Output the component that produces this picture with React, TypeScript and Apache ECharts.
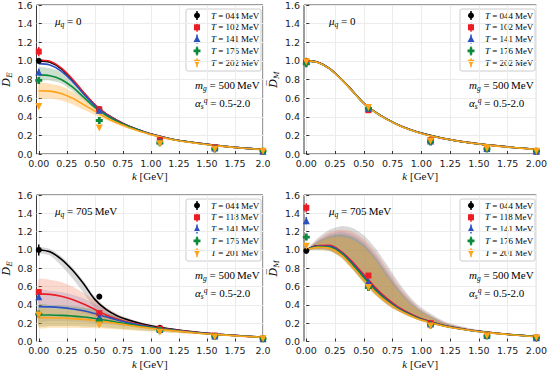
import React, { useEffect, useRef } from 'react';
import * as echarts from 'echarts';

// sampling momenta for the fitted curves / bands (GeV)
const K = [0, 0.1, 0.2, 0.3, 0.4, 0.5, 0.6, 0.7, 0.8, 0.9, 1.0, 1.2, 1.4, 1.6, 1.8, 2.0];
// lattice momenta of the data points (GeV)
const KP = [0, 0.54, 1.08, 1.57, 2.0];
const X_TICKS = [0, 0.25, 0.5, 0.75, 1.0, 1.25, 1.5, 1.75, 2.0];

const T_MU0 = ['044', '102', '141', '176', '202'];
const T_MU705 = ['044', '118', '141', '176', '201'];

// ---------- Panel 1: D_E, mu_q = 0 ----------
const DE0_black = [1.0, 0.985, 0.915, 0.795, 0.655, 0.525, 0.43, 0.36, 0.3, 0.255, 0.215, 0.155, 0.12, 0.09, 0.066, 0.048];
const DE0_red = [1.01, 0.995, 0.925, 0.805, 0.663, 0.53, 0.432, 0.36, 0.3, 0.255, 0.215, 0.155, 0.12, 0.09, 0.066, 0.048];
const DE0_blue = [0.97, 0.955, 0.89, 0.78, 0.645, 0.52, 0.425, 0.355, 0.298, 0.254, 0.214, 0.155, 0.119, 0.09, 0.066, 0.048];
const DE0_green = [0.85, 0.84, 0.8, 0.72, 0.61, 0.5, 0.415, 0.35, 0.295, 0.25, 0.21, 0.155, 0.118, 0.088, 0.065, 0.047];
const DE0_orange = [0.68, 0.675, 0.65, 0.6, 0.53, 0.46, 0.39, 0.335, 0.285, 0.245, 0.208, 0.153, 0.116, 0.087, 0.064, 0.046];
const DE0_green_hi = [0.93, 0.92, 0.88, 0.79, 0.67, 0.54, 0.44, 0.365, 0.305, 0.255, 0.213, 0.156, 0.119, 0.089, 0.066, 0.048];
const DE0_green_lo = [0.8, 0.79, 0.76, 0.68, 0.58, 0.48, 0.4, 0.34, 0.288, 0.246, 0.207, 0.154, 0.117, 0.087, 0.064, 0.046];
const DE0_orange_hi = [0.76, 0.755, 0.73, 0.67, 0.59, 0.5, 0.42, 0.355, 0.3, 0.255, 0.213, 0.156, 0.118, 0.088, 0.065, 0.047];
const DE0_orange_lo = [0.6, 0.595, 0.575, 0.535, 0.475, 0.42, 0.365, 0.315, 0.27, 0.235, 0.203, 0.15, 0.114, 0.086, 0.063, 0.045];
const DE0_pts_black = [1.0, 0.48, 0.15, 0.065, 0.03];
const DE0_pts_red = [1.1, 0.48, 0.15, 0.07, 0.03];
const DE0_pts_blue = [0.88, 0.47, 0.14, 0.065, 0.03];
const DE0_pts_green = [0.79, 0.36, 0.12, 0.055, 0.03];
const DE0_pts_orange = [0.51, 0.28, 0.11, 0.05, 0.03];
const DE0_err_black = [0.02, 0.015, 0.01, 0.005, 0.005];
const DE0_err_red = [0.05, 0.02, 0.01, 0.005, 0.005];
const DE0_err_blue = [0.035, 0.02, 0.01, 0.005, 0.005];
const DE0_err_green = [0.03, 0.02, 0.01, 0.005, 0.005];
const DE0_err_orange = [0.02, 0.015, 0.01, 0.005, 0.005];

// ---------- Panel 2: D_M, mu_q = 0 ----------
const DM0_black = [1.0, 0.985, 0.92, 0.81, 0.68, 0.545, 0.45, 0.375, 0.312, 0.263, 0.224, 0.165, 0.125, 0.095, 0.07, 0.05];
const DM0_red = [1.0, 0.985, 0.92, 0.81, 0.68, 0.545, 0.45, 0.375, 0.312, 0.263, 0.224, 0.165, 0.125, 0.095, 0.07, 0.05];
const DM0_blue = [1.0, 0.984, 0.918, 0.808, 0.678, 0.544, 0.449, 0.374, 0.311, 0.262, 0.223, 0.164, 0.124, 0.094, 0.07, 0.05];
const DM0_green = [1.0, 0.983, 0.917, 0.807, 0.677, 0.543, 0.448, 0.373, 0.31, 0.261, 0.222, 0.164, 0.124, 0.094, 0.069, 0.05];
const DM0_orange = [1.0, 0.982, 0.916, 0.806, 0.676, 0.542, 0.447, 0.372, 0.309, 0.26, 0.221, 0.163, 0.123, 0.093, 0.069, 0.049];
const DM0_pts_black = [1.0, 0.49, 0.15, 0.06, 0.03];
const DM0_pts_red = [0.99, 0.47, 0.15, 0.06, 0.03];
const DM0_pts_blue = [0.99, 0.49, 0.14, 0.06, 0.03];
const DM0_pts_green = [0.97, 0.49, 0.13, 0.055, 0.03];
const DM0_pts_orange = [0.99, 0.5, 0.14, 0.06, 0.03];
const DM0_err = [0.02, 0.015, 0.01, 0.005, 0.005];

// ---------- Panel 3: D_E, mu_q = 705 MeV ----------
const DE705_black = [1.0, 0.98, 0.9, 0.78, 0.63, 0.46, 0.35, 0.28, 0.235, 0.2, 0.172, 0.132, 0.102, 0.08, 0.062, 0.047];
const DE705_red = [0.52, 0.515, 0.495, 0.46, 0.41, 0.35, 0.29, 0.245, 0.21, 0.185, 0.162, 0.127, 0.1, 0.079, 0.061, 0.047];
const DE705_blue = [0.38, 0.378, 0.37, 0.355, 0.335, 0.305, 0.27, 0.235, 0.205, 0.18, 0.158, 0.124, 0.098, 0.078, 0.061, 0.047];
const DE705_green = [0.29, 0.289, 0.285, 0.278, 0.268, 0.252, 0.232, 0.21, 0.19, 0.17, 0.152, 0.121, 0.096, 0.077, 0.06, 0.046];
const DE705_orange = [0.26, 0.259, 0.256, 0.25, 0.242, 0.23, 0.214, 0.196, 0.178, 0.16, 0.144, 0.116, 0.093, 0.075, 0.059, 0.046];
const DE705_black_hi = [1.03, 1.01, 0.93, 0.81, 0.66, 0.49, 0.375, 0.3, 0.25, 0.21, 0.18, 0.137, 0.105, 0.082, 0.063, 0.048];
const DE705_black_lo = [0.97, 0.94, 0.83, 0.69, 0.53, 0.37, 0.28, 0.23, 0.2, 0.175, 0.154, 0.122, 0.096, 0.076, 0.06, 0.046];
const DE705_red_hi = [0.68, 0.675, 0.65, 0.6, 0.53, 0.45, 0.37, 0.3, 0.25, 0.215, 0.185, 0.138, 0.106, 0.083, 0.063, 0.048];
const DE705_red_lo = [0.4, 0.395, 0.38, 0.35, 0.31, 0.27, 0.23, 0.2, 0.175, 0.16, 0.145, 0.118, 0.095, 0.076, 0.06, 0.046];
const DE705_blue_hi = [0.56, 0.555, 0.54, 0.51, 0.47, 0.41, 0.35, 0.29, 0.245, 0.21, 0.18, 0.135, 0.104, 0.082, 0.063, 0.048];
const DE705_blue_lo = [0.22, 0.22, 0.22, 0.215, 0.21, 0.2, 0.19, 0.175, 0.16, 0.147, 0.135, 0.112, 0.092, 0.074, 0.058, 0.045];
const DE705_green_hi = [0.4, 0.4, 0.395, 0.385, 0.37, 0.345, 0.31, 0.27, 0.235, 0.205, 0.178, 0.135, 0.104, 0.082, 0.063, 0.048];
const DE705_green_lo = [0.17, 0.17, 0.17, 0.168, 0.165, 0.16, 0.152, 0.143, 0.133, 0.123, 0.114, 0.097, 0.081, 0.067, 0.053, 0.042];
const DE705_orange_hi = [0.36, 0.36, 0.355, 0.345, 0.33, 0.31, 0.285, 0.255, 0.225, 0.197, 0.172, 0.132, 0.102, 0.08, 0.062, 0.047];
const DE705_orange_lo = [0.15, 0.15, 0.15, 0.149, 0.147, 0.144, 0.139, 0.132, 0.124, 0.116, 0.108, 0.093, 0.078, 0.065, 0.052, 0.041];
const DE705_pts_black = [1.0, 0.49, 0.15, 0.06, 0.03];
const DE705_pts_red = [0.54, 0.31, 0.14, 0.065, 0.03];
const DE705_pts_blue = [0.49, 0.27, 0.13, 0.06, 0.03];
const DE705_pts_green = [0.3, 0.22, 0.12, 0.055, 0.03];
const DE705_pts_orange = [0.29, 0.18, 0.1, 0.05, 0.03];
const DE705_err_black = [0.06, 0.01, 0.01, 0.005, 0.005];
const DE705_err_red = [0.03, 0.02, 0.01, 0.005, 0.005];
const DE705_err_blue = [0.03, 0.02, 0.01, 0.005, 0.005];
const DE705_err_green = [0.02, 0.02, 0.01, 0.005, 0.005];
const DE705_err_orange = [0.02, 0.025, 0.01, 0.005, 0.005];

// ---------- Panel 4: D_M, mu_q = 705 MeV ----------
const DM705_black = [1.0, 1.045, 1.045, 0.98, 0.86, 0.72, 0.58, 0.46, 0.37, 0.3, 0.245, 0.172, 0.128, 0.097, 0.073, 0.055];
const DM705_red = [1.0, 1.045, 1.05, 0.985, 0.87, 0.73, 0.59, 0.47, 0.375, 0.305, 0.248, 0.174, 0.129, 0.098, 0.074, 0.055];
const DM705_blue = [1.0, 1.04, 1.04, 0.975, 0.855, 0.71, 0.57, 0.455, 0.365, 0.297, 0.242, 0.171, 0.127, 0.096, 0.072, 0.054];
const DM705_green = [1.0, 1.035, 1.03, 0.965, 0.84, 0.695, 0.555, 0.445, 0.357, 0.291, 0.238, 0.169, 0.126, 0.095, 0.072, 0.054];
const DM705_orange = [1.0, 1.03, 1.02, 0.95, 0.82, 0.675, 0.54, 0.432, 0.348, 0.285, 0.234, 0.167, 0.125, 0.094, 0.071, 0.053];
const DM705_black_hi = [1.0, 1.13, 1.22, 1.26, 1.24, 1.16, 1.02, 0.84, 0.65, 0.49, 0.37, 0.22, 0.15, 0.11, 0.08, 0.058];
const DM705_red_hi = [1.0, 1.11, 1.19, 1.22, 1.2, 1.12, 0.98, 0.8, 0.62, 0.47, 0.35, 0.21, 0.145, 0.106, 0.078, 0.057];
const DM705_blue_hi = [1.0, 1.1, 1.17, 1.2, 1.17, 1.09, 0.95, 0.77, 0.59, 0.45, 0.34, 0.205, 0.142, 0.104, 0.077, 0.056];
const DM705_green_hi = [1.0, 1.09, 1.15, 1.17, 1.14, 1.06, 0.92, 0.74, 0.57, 0.43, 0.33, 0.2, 0.14, 0.103, 0.076, 0.056];
const DM705_orange_hi = [1.0, 1.08, 1.13, 1.14, 1.11, 1.03, 0.89, 0.71, 0.55, 0.415, 0.32, 0.195, 0.138, 0.102, 0.075, 0.055];
const DM705_black_lo = [1.0, 1.01, 1.0, 0.93, 0.8, 0.655, 0.52, 0.415, 0.335, 0.275, 0.228, 0.162, 0.122, 0.093, 0.07, 0.052];
const DM705_red_lo = [1.0, 1.01, 1.0, 0.93, 0.8, 0.655, 0.52, 0.415, 0.335, 0.275, 0.228, 0.162, 0.122, 0.093, 0.07, 0.052];
const DM705_blue_lo = [1.0, 1.005, 0.995, 0.925, 0.795, 0.65, 0.515, 0.41, 0.332, 0.272, 0.226, 0.161, 0.121, 0.092, 0.07, 0.052];
const DM705_green_lo = [1.0, 1.0, 0.99, 0.92, 0.79, 0.645, 0.51, 0.405, 0.328, 0.27, 0.224, 0.16, 0.121, 0.092, 0.069, 0.051];
const DM705_orange_lo = [1.0, 1.0, 0.985, 0.915, 0.785, 0.64, 0.505, 0.402, 0.325, 0.268, 0.222, 0.158, 0.12, 0.091, 0.069, 0.051];
const DM705_pts_black = [0.99, 0.62, 0.19, 0.065, 0.04];
const DM705_pts_red = [1.46, 0.72, 0.2, 0.065, 0.04];
const DM705_pts_blue = [1.32, 0.65, 0.19, 0.065, 0.04];
const DM705_pts_green = [1.14, 0.59, 0.18, 0.06, 0.04];
const DM705_pts_orange = [1.04, 0.59, 0.17, 0.06, 0.04];
const DM705_err_black = [0.02, 0.02, 0.01, 0.005, 0.005];
const DM705_err_red = [0.05, 0.02, 0.01, 0.005, 0.005];
const DM705_err_blue = [0.04, 0.02, 0.01, 0.005, 0.005];
const DM705_err_green = [0.02, 0.02, 0.01, 0.005, 0.005];
const DM705_err_orange = [0.03, 0.02, 0.01, 0.005, 0.005];

const COLORS = ['#000000', '#ec1c24', '#2b50c0', '#0c8a3b', '#ffa31a'];
const BAND_COLORS = [
  'rgba(130,130,130,0.30)',
  'rgba(245,130,95,0.30)',
  'rgba(125,110,180,0.22)',
  'rgba(60,130,60,0.26)',
  'rgba(255,170,50,0.34)',
];
const SYMBOLS = ['circle', 'rect', 'triangle', 'path://M3,0H7V3H10V7H7V10H3V7H0V3H3Z', 'path://M0,0H10L5,9Z'];
const SYMBOL_SIZES = [6, 6, 7, 7, 7];

const PANELS = [
  {
    curves: [DE0_black, DE0_red, DE0_blue, DE0_green, DE0_orange],
    hi: [null, null, null, DE0_green_hi, DE0_orange_hi],
    lo: [null, null, null, DE0_green_lo, DE0_orange_lo],
    pts: [DE0_pts_black, DE0_pts_red, DE0_pts_blue, DE0_pts_green, DE0_pts_orange],
    errs: [DE0_err_black, DE0_err_red, DE0_err_blue, DE0_err_green, DE0_err_orange],
    temps: T_MU0, last: '2.0', sub: 'E', mu: '0',
  },
  {
    curves: [DM0_black, DM0_red, DM0_blue, DM0_green, DM0_orange],
    hi: [null, null, null, null, null],
    lo: [null, null, null, null, null],
    pts: [DM0_pts_black, DM0_pts_red, DM0_pts_blue, DM0_pts_green, DM0_pts_orange],
    errs: [DM0_err, DM0_err, DM0_err, DM0_err, DM0_err],
    temps: T_MU0, last: '2.00', sub: 'M', mu: '0',
  },
  {
    curves: [DE705_black, DE705_red, DE705_blue, DE705_green, DE705_orange],
    hi: [DE705_black_hi, DE705_red_hi, DE705_blue_hi, DE705_green_hi, DE705_orange_hi],
    lo: [DE705_black_lo, DE705_red_lo, DE705_blue_lo, DE705_green_lo, DE705_orange_lo],
    pts: [DE705_pts_black, DE705_pts_red, DE705_pts_blue, DE705_pts_green, DE705_pts_orange],
    errs: [DE705_err_black, DE705_err_red, DE705_err_blue, DE705_err_green, DE705_err_orange],
    temps: T_MU705, last: '2.0', sub: 'E', mu: '705\u2009MeV',
  },
  {
    curves: [DM705_black, DM705_red, DM705_blue, DM705_green, DM705_orange],
    hi: [DM705_black_hi, DM705_red_hi, DM705_blue_hi, DM705_green_hi, DM705_orange_hi],
    lo: [DM705_black_lo, DM705_red_lo, DM705_blue_lo, DM705_green_lo, DM705_orange_lo],
    pts: [DM705_pts_black, DM705_pts_red, DM705_pts_blue, DM705_pts_green, DM705_pts_orange],
    errs: [DM705_err_black, DM705_err_red, DM705_err_blue, DM705_err_green, DM705_err_orange],
    temps: T_MU705, last: '2.00', sub: 'M', mu: '705\u2009MeV',
  },
];

const GRIDS = [
  { left: 30, top: 5, width: 233, height: 149 },
  { left: 304, top: 5, width: 235, height: 149 },
  { left: 30, top: 195, width: 233, height: 149 },
  { left: 304, top: 195, width: 235, height: 149 },
];

const SERIF = 'Liberation Serif';
const MATH_RICH = {
  i: { fontFamily: SERIF, fontStyle: 'italic', fontSize: 11, lineHeight: 14, color: '#111' },
  n: { fontFamily: SERIF, fontSize: 11, lineHeight: 14, color: '#111' },
  sb: { fontFamily: SERIF, fontStyle: 'italic', fontSize: 7.5, lineHeight: 14, verticalAlign: 'bottom', color: '#111' },
  sp: { fontFamily: SERIF, fontStyle: 'italic', fontSize: 7.5, lineHeight: 14, verticalAlign: 'top', color: '#111' },
};

function markerShape(i: number, cx: number, cy: number) {
  const fill = COLORS[i];
  if (i === 0) return { type: 'circle', shape: { cx, cy, r: 3 }, style: { fill } };
  if (i === 1) return { type: 'rect', shape: { x: cx - 3, y: cy - 3, width: 6, height: 6 }, style: { fill } };
  if (i === 2)
    return { type: 'polygon', shape: { points: [[cx, cy - 3.5], [cx + 3.5, cy + 3], [cx - 3.5, cy + 3]] }, style: { fill } };
  if (i === 3)
    return {
      type: 'polygon',
      shape: {
        points: [
          [cx - 1.3, cy - 3.5], [cx + 1.3, cy - 3.5], [cx + 1.3, cy - 1.3], [cx + 3.5, cy - 1.3], [cx + 3.5, cy + 1.3],
          [cx + 1.3, cy + 1.3], [cx + 1.3, cy + 3.5], [cx - 1.3, cy + 3.5], [cx - 1.3, cy + 1.3], [cx - 3.5, cy + 1.3],
          [cx - 3.5, cy - 1.3], [cx - 1.3, cy - 1.3],
        ],
      },
      style: { fill },
    };
  return { type: 'polygon', shape: { points: [[cx - 3.5, cy - 3], [cx + 3.5, cy - 3], [cx, cy + 3.5]] }, style: { fill } };
}

function legendGroup(x: number, y: number, temps: string[]) {
  const children: any[] = [
    { type: 'rect', shape: { x: 0, y: 0, width: 75, height: 62, r: 2 }, style: { fill: 'rgba(255,255,255,0.85)', stroke: '#cccccc', lineWidth: 1 } },
  ];
  temps.forEach((t, i) => {
    const cy = 6.5 + i * 11.8;
    const cx = 11;
    children.push({ type: 'line', shape: { x1: cx, y1: cy - 4.5, x2: cx, y2: cy + 4.5 }, style: { stroke: COLORS[i], lineWidth: 1.5 } });
    children.push(markerShape(i, cx, cy));
    children.push({
      type: 'text', x: 25, y: cy,
      style: {
        text: `{i|T}{n| = ${t}\u2009MeV}`,
        verticalAlign: 'middle',
        rich: {
          i: { fontFamily: SERIF, fontStyle: 'italic', fontSize: 9, color: '#111' },
          n: { fontFamily: SERIF, fontSize: 9, color: '#111' },
        },
      },
    });
  });
  return { type: 'group', x, y, z: 100, children };
}

function mathText(x: number, y: number, text: string) {
  return { type: 'text', x, y, z: 100, style: { text, verticalAlign: 'middle', rich: MATH_RICH } };
}

function buildOption() {
  const grid: any[] = [];
  const xAxis: any[] = [];
  const yAxis: any[] = [];
  const series: any[] = [];
  const graphic: any[] = [];

  PANELS.forEach((P, p) => {
    const g = GRIDS[p];
    grid.push({ ...g, show: true, borderColor: '#3a3a3a', borderWidth: 1, backgroundColor: 'transparent' });
    xAxis.push({
      type: 'value', gridIndex: p, min: -0.02, max: 2.0,
      axisLine: { show: false },
      axisTick: { show: true, inside: true, length: 3, customValues: X_TICKS, lineStyle: { color: '#333' } },
      axisLabel: {
        customValues: X_TICKS, margin: 4, fontFamily: 'DejaVu Sans', fontSize: 9.5, color: '#222',
        formatter: (v: number) => (Math.abs(v - 2) < 1e-9 ? P.last : v.toFixed(2)),
      },
      splitLine: { show: false },
      name: '{i|k}{n| [GeV]}', nameLocation: 'middle', nameGap: 15,
      nameTextStyle: { rich: MATH_RICH },
    });
    yAxis.push({
      type: 'value', gridIndex: p, min: 0, max: 1.6, interval: 0.2,
      axisLine: { show: false },
      axisTick: { show: true, inside: true, length: 3, lineStyle: { color: '#333' } },
      axisLabel: { margin: 4, fontFamily: 'DejaVu Sans', fontSize: 9.5, color: '#222', formatter: (v: number) => v.toFixed(1) },
      splitLine: { show: true, lineStyle: { color: '#ececec', width: 1 } },
      name: `{d|D\u0305}{s|${P.sub}}`, nameLocation: 'middle', nameGap: 14, nameRotate: 90,
      nameTextStyle: {
        rich: {
          d: { fontFamily: 'DejaVu Serif', fontStyle: 'italic', fontSize: 11, lineHeight: 14, color: '#111' },
          s: { fontFamily: 'DejaVu Serif', fontStyle: 'italic', fontSize: 7.5, lineHeight: 14, verticalAlign: 'bottom', color: '#111' },
        },
      },
    });

    // vertical grid lines through the x ticks (kept beneath the bands)
    series.push({
      type: 'line', xAxisIndex: p, yAxisIndex: p, data: [], z: 0, silent: true,
      markLine: {
        silent: true, symbol: 'none', label: { show: false }, animation: false, z: 0,
        lineStyle: { color: '#ececec', width: 1, type: 'solid' },
        data: X_TICKS.map((v) => ({ xAxis: v })),
      },
    });

    // uncertainty bands (one polygon per band, through the axis scales)
    P.hi.forEach((hi, i) => {
      const lo = P.lo[i];
      if (!hi || !lo) return;
      const fill = BAND_COLORS[i];
      series.push({
        type: 'custom', xAxisIndex: p, yAxisIndex: p, z: 2, silent: true,
        data: K.map((k, j) => [k, lo[j], hi[j]]),
        encode: { x: 0, y: [1, 2] },
        renderItem: (params: any, api: any) => {
          if (params.dataIndex !== 0) return null;
          const upper = K.map((k, j) => api.coord([k, hi[j]]));
          const lower = K.map((k, j) => api.coord([k, lo[j]])).reverse();
          return {
            type: 'polygon',
            shape: { points: upper.concat(lower), smooth: 0.25 },
            style: { fill, stroke: 'none' },
          };
        },
      });
    });

    // central curves
    P.curves.forEach((c, i) => {
      series.push({
        type: 'line', xAxisIndex: p, yAxisIndex: p, z: 3, silent: true, symbol: 'none', smooth: 0.35,
        lineStyle: { color: COLORS[i], width: 1.6 }, data: K.map((k, j) => [k, c[j]]),
      });
    });

    // error bars
    P.pts.forEach((pt, i) => {
      const e = P.errs[i];
      const color = COLORS[i];
      series.push({
        type: 'custom', xAxisIndex: p, yAxisIndex: p, z: 4, silent: true,
        data: KP.map((k, j) => [k, pt[j] - e[j], pt[j] + e[j]]),
        encode: { x: 0, y: [1, 2] },
        renderItem: (params: any, api: any) => {
          const a = api.coord([api.value(0), api.value(1)]);
          const b = api.coord([api.value(0), api.value(2)]);
          return { type: 'line', shape: { x1: a[0], y1: a[1], x2: b[0], y2: b[1] }, style: { stroke: color, lineWidth: 1.5 } };
        },
      });
    });

    // data points
    P.pts.forEach((pt, i) => {
      series.push({
        type: 'scatter', name: `T = ${P.temps[i]} MeV`, xAxisIndex: p, yAxisIndex: p, z: 5, silent: true,
        symbol: SYMBOLS[i], symbolSize: SYMBOL_SIZES[i], itemStyle: { color: COLORS[i], opacity: 1 },
        data: KP.map((k, j) => [k, pt[j]]),
      });
    });

    // legend and annotations
    graphic.push(legendGroup(g.left + 156, g.top + 4, P.temps));
    graphic.push(mathText(g.left + 25, g.top + 16, `{i|μ}{sb|q}{n| = ${P.mu}}`));
    graphic.push(mathText(g.left + 165, g.top + 80, '{i|m}{sb|g}{n| = 500\u2009MeV}'));
    graphic.push(mathText(g.left + 165, g.top + 98, '{i|α}{sb|s}{sp|q}{n| = 0.5-2.0}'));
  });

  return { animation: false, backgroundColor: '#ffffff', grid, xAxis, yAxis, series, graphic };
}

export default function App() {
  const ref = useRef<HTMLDivElement>(null);
  useEffect(() => {
    if (!ref.current) return;
    const chart = echarts.init(ref.current, undefined, { renderer: 'svg' });
    chart.setOption(buildOption() as any);
    return () => chart.dispose();
  }, []);
  return <div ref={ref} style={{ width: 550, height: 370, position: 'absolute', left: 0, top: 0 }} />;
}
